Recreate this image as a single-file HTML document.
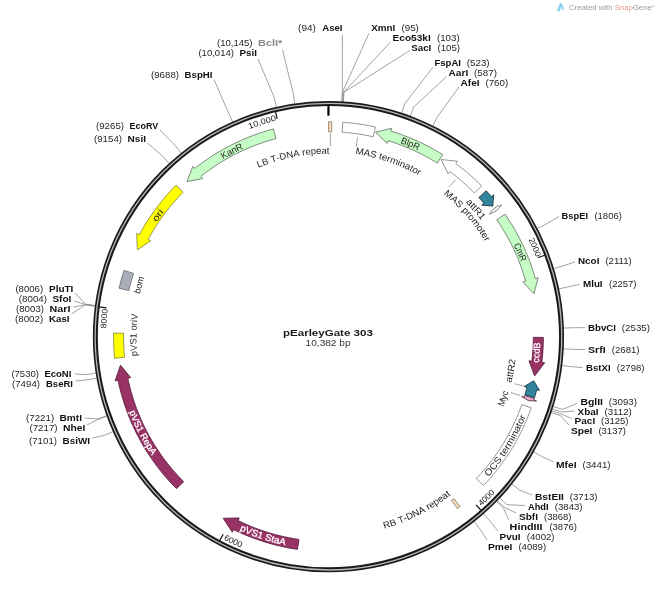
<!DOCTYPE html>
<html><head><meta charset="utf-8"><title>pEarleyGate 303</title>
<style>
html,body{margin:0;padding:0;background:#fff;}
body{width:660px;height:591px;overflow:hidden;}
svg{display:block;font-family:"Liberation Sans",sans-serif;will-change:transform;}
text{white-space:pre;}
</style></head><body>
<svg width="660" height="591" viewBox="0 0 660 591">
<rect width="660" height="591" fill="#fff"/>
<g fill="none" stroke="#8c8c8c" stroke-width="0.8">
<path d="M341.78 102.58 L342.38 92.1 L342.4 34.5"/>
<path d="M341.92 102.59 L342.53 92.1 L369 33.2"/>
<path d="M343.06 102.66 L343.71 92.18 L390.4 42.2"/>
<path d="M343.34 102.67 L344.01 92.19 L410 50.4"/>
<path d="M401.44 113.85 L404.71 103.87 L433 67"/>
<path d="M410.02 116.84 L413.67 107 L446.6 76.6"/>
<path d="M432.55 126.57 L437.21 117.16 L459 87"/>
<path d="M536.69 228.87 L546.01 224.04 L559 216.6"/>
<path d="M552.94 268.92 L562.99 265.89 L575 262"/>
<path d="M558.05 289 L568.33 286.86 L579.6 284.4"/>
<path d="M562.79 328.12 L573.29 327.73 L585 327.6"/>
<path d="M562.64 348.83 L573.12 349.37 L585 349.6"/>
<path d="M561.19 365.37 L571.61 366.65 L582.4 367.6"/>
<path d="M552.4 406.24 L562.43 409.36 L577 403.5"/>
<path d="M551.59 408.81 L561.58 412.04 L574.4 411"/>
<path d="M551.01 410.57 L560.98 413.87 L571.6 418.6"/>
<path d="M550.47 412.18 L560.41 415.56 L569 425"/>
<path d="M532.91 451.52 L542.07 456.67 L553.6 462"/>
<path d="M511.33 483.48 L519.52 490.05 L532 495"/>
<path d="M499.23 497.4 L506.88 504.59 L525 505.6"/>
<path d="M496.78 499.96 L504.32 507.27 L516 513"/>
<path d="M495.99 500.78 L503.49 508.12 L508.6 519.6"/>
<path d="M483 513.06 L489.92 520.96 L498 531"/>
<path d="M473.51 520.95 L480 529.2 L487 540"/>
<path d="M113.84 431.22 L104.23 435.45 L92.4 438"/>
<path d="M107.74 415.93 L97.86 419.48 L87 425"/>
<path d="M107.55 415.4 L97.66 418.92 L85 418"/>
<path d="M97.61 377.99 L87.28 379.84 L75.6 381"/>
<path d="M96.77 372.96 L86.4 374.58 L75 374"/>
<path d="M95.94 306.2 L85.53 304.84 L71.6 314"/>
<path d="M95.96 306.06 L85.55 304.69 L73 307"/>
<path d="M95.98 305.92 L85.57 304.54 L74.4 301"/>
<path d="M96.02 305.64 L85.61 304.25 L75 293"/>
<path d="M169.78 164.03 L162.67 156.3 L147.6 143"/>
<path d="M181.73 153.77 L175.16 145.58 L160 130"/>
<path d="M232.83 122.58 L228.55 112.99 L214 79.6"/>
<path d="M276.65 107.99 L274.34 97.75 L258 59"/>
<path d="M294.93 104.61 L293.43 94.22 L282.4 49.6"/>
</g>
<g>
<text transform="translate(322.2 30.7) scale(1.1579 1)" font-size="8.3" font-weight="bold" fill="#111">AseI</text>
<text transform="translate(298.1 30.7) scale(1.1776 1)" font-size="8.5" fill="#262626">(94)</text>
<text transform="translate(371.2 30.7) scale(1.1877 1)" font-size="8.3" font-weight="bold" fill="#111">XmnI</text>
<text transform="translate(401.4 30.7) scale(1.1577 1)" font-size="8.5" fill="#262626">(95)</text>
<text transform="translate(392.5 40.7) scale(1.2207 1)" font-size="8.3" font-weight="bold" fill="#111">Eco53kI</text>
<text transform="translate(436.9 40.7) scale(1.1540 1)" font-size="8.5" fill="#262626">(103)</text>
<text transform="translate(411.2 50.7) scale(1.1772 1)" font-size="8.3" font-weight="bold" fill="#111">SacI</text>
<text transform="translate(437.4 50.7) scale(1.1440 1)" font-size="8.5" fill="#262626">(105)</text>
<text transform="translate(434.4 65.5) scale(1.1537 1)" font-size="8.3" font-weight="bold" fill="#111">FspAI</text>
<text transform="translate(466.8 65.5) scale(1.1490 1)" font-size="8.5" fill="#262626">(523)</text>
<text transform="translate(448.6 75.6) scale(1.2139 1)" font-size="8.3" font-weight="bold" fill="#111">AarI</text>
<text transform="translate(474 75.6) scale(1.1591 1)" font-size="8.5" fill="#262626">(587)</text>
<text transform="translate(460.6 85.6) scale(1.2117 1)" font-size="8.3" font-weight="bold" fill="#111">AfeI</text>
<text transform="translate(485.4 85.6) scale(1.1490 1)" font-size="8.5" fill="#262626">(760)</text>
<text transform="translate(561.6 218.8) scale(1.1223 1)" font-size="8.3" font-weight="bold" fill="#111">BspEI</text>
<text transform="translate(594.4 218.8) scale(1.1233 1)" font-size="8.5" fill="#262626">(1806)</text>
<text transform="translate(578 263.6) scale(1.1898 1)" font-size="8.3" font-weight="bold" fill="#111">NcoI</text>
<text transform="translate(605.4 263.6) scale(1.1314 1)" font-size="8.5" fill="#262626">(2111)</text>
<text transform="translate(583 286.6) scale(1.1810 1)" font-size="8.3" font-weight="bold" fill="#111">MluI</text>
<text transform="translate(609 286.6) scale(1.1233 1)" font-size="8.5" fill="#262626">(2257)</text>
<text transform="translate(588 330.6) scale(1.1676 1)" font-size="8.3" font-weight="bold" fill="#111">BbvCI</text>
<text transform="translate(621.8 330.6) scale(1.1477 1)" font-size="8.5" fill="#262626">(2535)</text>
<text transform="translate(588 353) scale(1.2720 1)" font-size="8.3" font-weight="bold" fill="#111">SrfI</text>
<text transform="translate(611.8 353) scale(1.1314 1)" font-size="8.5" fill="#262626">(2681)</text>
<text transform="translate(586 370.6) scale(1.1595 1)" font-size="8.3" font-weight="bold" fill="#111">BstXI</text>
<text transform="translate(616.8 370.6) scale(1.1314 1)" font-size="8.5" fill="#262626">(2798)</text>
<text transform="translate(580.4 405) scale(1.2568 1)" font-size="8.3" font-weight="bold" fill="#111">BglII</text>
<text transform="translate(608.8 405) scale(1.1477 1)" font-size="8.5" fill="#262626">(3093)</text>
<text transform="translate(577.6 414.5) scale(1.1981 1)" font-size="8.3" font-weight="bold" fill="#111">XbaI</text>
<text transform="translate(604.4 414.5) scale(1.1477 1)" font-size="8.5" fill="#262626">(3112)</text>
<text transform="translate(574.6 424.4) scale(1.2065 1)" font-size="8.3" font-weight="bold" fill="#111">PacI</text>
<text transform="translate(601 424.4) scale(1.1233 1)" font-size="8.5" fill="#262626">(3125)</text>
<text transform="translate(571 434) scale(1.2209 1)" font-size="8.3" font-weight="bold" fill="#111">SpeI</text>
<text transform="translate(598.4 434) scale(1.1233 1)" font-size="8.5" fill="#262626">(3137)</text>
<text transform="translate(556 468) scale(1.2410 1)" font-size="8.3" font-weight="bold" fill="#111">MfeI</text>
<text transform="translate(582.4 468) scale(1.1477 1)" font-size="8.5" fill="#262626">(3441)</text>
<text transform="translate(535 500) scale(1.2329 1)" font-size="8.3" font-weight="bold" fill="#111">BstEII</text>
<text transform="translate(569.8 500) scale(1.1314 1)" font-size="8.5" fill="#262626">(3713)</text>
<text transform="translate(528 510) scale(1.1171 1)" font-size="8.3" font-weight="bold" fill="#111">AhdI</text>
<text transform="translate(554.8 510) scale(1.1314 1)" font-size="8.5" fill="#262626">(3843)</text>
<text transform="translate(519 520) scale(1.2120 1)" font-size="8.3" font-weight="bold" fill="#111">SbfI</text>
<text transform="translate(544 520) scale(1.1233 1)" font-size="8.5" fill="#262626">(3868)</text>
<text transform="translate(509.6 530) scale(1.3014 1)" font-size="8.3" font-weight="bold" fill="#111">HindIII</text>
<text transform="translate(549.4 530) scale(1.1233 1)" font-size="8.5" fill="#262626">(3876)</text>
<text transform="translate(499.6 540) scale(1.1981 1)" font-size="8.3" font-weight="bold" fill="#111">PvuI</text>
<text transform="translate(526.8 540) scale(1.1314 1)" font-size="8.5" fill="#262626">(4002)</text>
<text transform="translate(488 549.6) scale(1.2300 1)" font-size="8.3" font-weight="bold" fill="#111">PmeI</text>
<text transform="translate(518.4 549.6) scale(1.1314 1)" font-size="8.5" fill="#262626">(4089)</text>
<text transform="translate(62.6 444) scale(1.1884 1)" font-size="8.3" font-weight="bold" fill="#111">BsiWI</text>
<text transform="translate(29 444) scale(1.1396 1)" font-size="8.5" fill="#262626">(7101)</text>
<text transform="translate(63 431.4) scale(1.2454 1)" font-size="8.3" font-weight="bold" fill="#111">NheI</text>
<text transform="translate(29.4 431.4) scale(1.1477 1)" font-size="8.5" fill="#262626">(7217)</text>
<text transform="translate(59.6 421.4) scale(1.2145 1)" font-size="8.3" font-weight="bold" fill="#111">BmtI</text>
<text transform="translate(26 421.4) scale(1.1477 1)" font-size="8.5" fill="#262626">(7221)</text>
<text transform="translate(46 387.2) scale(1.1477 1)" font-size="8.3" font-weight="bold" fill="#111">BseRI</text>
<text transform="translate(12 387.2) scale(1.1396 1)" font-size="8.5" fill="#262626">(7494)</text>
<text transform="translate(44.4 377.4) scale(1.1479 1)" font-size="8.3" font-weight="bold" fill="#111">EcoNI</text>
<text transform="translate(11.4 377.4) scale(1.1233 1)" font-size="8.5" fill="#262626">(7530)</text>
<text transform="translate(49 321.6) scale(1.1750 1)" font-size="8.3" font-weight="bold" fill="#111">KasI</text>
<text transform="translate(15 321.6) scale(1.1477 1)" font-size="8.5" fill="#262626">(8002)</text>
<text transform="translate(49.6 312) scale(1.2882 1)" font-size="8.3" font-weight="bold" fill="#111">NarI</text>
<text transform="translate(16 312) scale(1.1396 1)" font-size="8.5" fill="#262626">(8003)</text>
<text transform="translate(52.4 302.4) scale(1.2120 1)" font-size="8.3" font-weight="bold" fill="#111">SfoI</text>
<text transform="translate(18.8 302.4) scale(1.1477 1)" font-size="8.5" fill="#262626">(8004)</text>
<text transform="translate(49 292.4) scale(1.2027 1)" font-size="8.3" font-weight="bold" fill="#111">PluTI</text>
<text transform="translate(15.4 292.4) scale(1.1314 1)" font-size="8.5" fill="#262626">(8006)</text>
<text transform="translate(127.6 142.4) scale(1.2088 1)" font-size="8.3" font-weight="bold" fill="#111">NsiI</text>
<text transform="translate(94 142.4) scale(1.1396 1)" font-size="8.5" fill="#262626">(9154)</text>
<text transform="translate(129.6 128.6) scale(1.0765 1)" font-size="8.3" font-weight="bold" fill="#111">EcoRV</text>
<text transform="translate(96 128.6) scale(1.1396 1)" font-size="8.5" fill="#262626">(9265)</text>
<text transform="translate(184.6 78.4) scale(1.1593 1)" font-size="8.3" font-weight="bold" fill="#111">BspHI</text>
<text transform="translate(151 78.4) scale(1.1396 1)" font-size="8.5" fill="#262626">(9688)</text>
<text transform="translate(239.6 56) scale(1.1785 1)" font-size="8.3" font-weight="bold" fill="#111">PsiI</text>
<text transform="translate(198.4 56) scale(1.1245 1)" font-size="8.5" fill="#262626">(10,014)</text>
<text transform="translate(258 46) scale(1.3223 1)" font-size="8.3" font-weight="bold" fill="#8a8a8a">BclI*</text>
<text transform="translate(217 46) scale(1.1245 1)" font-size="8.5" fill="#262626">(10,145)</text>
</g>
<circle cx="328.45" cy="336.7" r="233.1" fill="none" stroke="#1a1a1a" stroke-width="5"/>
<circle cx="328.45" cy="336.7" r="233.3" fill="none" stroke="#b8b8b8" stroke-width="1.3"/>
<path d="M328.45 105.7 L328.45 115.7" stroke="#000" stroke-width="2.2" stroke-linecap="butt"/>
<path d="M544.61 255.24 L537.87 257.78" stroke="#111" stroke-width="1.2"/>
<g font-size="8.2" fill="#222">
<text transform="translate(529.42 241.67) rotate(64.69) scale(1.0580 1)" x="-2.28" y="0">2</text>
<text transform="translate(531.43 246.06) rotate(65.94) scale(1.0580 1)" x="-2.28" y="0">0</text>
<text transform="translate(533.35 250.48) rotate(67.18) scale(1.0580 1)" x="-2.28" y="0">0</text>
<text transform="translate(535.17 254.95) rotate(68.42) scale(1.0580 1)" x="-2.28" y="0">0</text>
</g>
<path d="M480.91 510.25 L476.15 504.84" stroke="#111" stroke-width="1.2"/>
<g font-size="8.2" fill="#222">
<text transform="translate(483 504.73) rotate(317.39) scale(1.0580 1)" x="-2.28" y="0">4</text>
<text transform="translate(486.52 501.43) rotate(316.18) scale(1.0580 1)" x="-2.28" y="0">0</text>
<text transform="translate(489.96 498.05) rotate(314.97) scale(1.0580 1)" x="-2.28" y="0">0</text>
<text transform="translate(493.34 494.6) rotate(313.76) scale(1.0580 1)" x="-2.28" y="0">0</text>
</g>
<path d="M219.82 540.56 L223.2 534.21" stroke="#111" stroke-width="1.2"/>
<g font-size="8.2" fill="#222">
<text transform="translate(225.71 540.58) rotate(386.74) scale(1.0580 1)" x="-2.28" y="0">6</text>
<text transform="translate(230.04 542.7) rotate(385.53) scale(1.0580 1)" x="-2.28" y="0">0</text>
<text transform="translate(234.42 544.74) rotate(384.32) scale(1.0580 1)" x="-2.28" y="0">0</text>
<text transform="translate(238.84 546.68) rotate(383.11) scale(1.0580 1)" x="-2.28" y="0">0</text>
</g>
<path d="M99.38 306.94 L106.52 307.86" stroke="#111" stroke-width="1.2"/>
<g font-size="8.2" fill="#222">
<text transform="translate(106.41 326.05) rotate(272.75) scale(1.0580 1)" x="-2.28" y="0">8</text>
<text transform="translate(106.69 321.24) rotate(273.99) scale(1.0580 1)" x="-2.28" y="0">0</text>
<text transform="translate(107.08 316.43) rotate(275.23) scale(1.0580 1)" x="-2.28" y="0">0</text>
<text transform="translate(107.57 311.63) rotate(276.48) scale(1.0580 1)" x="-2.28" y="0">0</text>
</g>
<path d="M275.52 111.85 L277.17 118.85" stroke="#111" stroke-width="1.2"/>
<g font-size="8.2" fill="#222">
<text transform="translate(251.75 128.05) rotate(339.82) scale(1.1284 1)" x="-2.28" y="0">1</text>
<text transform="translate(256.6 126.33) rotate(341.14) scale(1.1284 1)" x="-2.28" y="0">0</text>
<text transform="translate(260.27 125.12) rotate(342.14) scale(1.1284 1)" x="-1.14" y="0">,</text>
<text transform="translate(263.95 123.96) rotate(343.13) scale(1.1284 1)" x="-2.28" y="0">0</text>
<text transform="translate(268.89 122.53) rotate(344.46) scale(1.1284 1)" x="-2.28" y="0">0</text>
<text transform="translate(273.86 121.21) rotate(345.79) scale(1.1284 1)" x="-2.28" y="0">0</text>
</g>
<path d="M328.58 121.8 L331.83 121.83 L331.67 131.83 L328.57 131.8 Z" fill="#fad9b3" stroke="#8f8578" stroke-width="0.9" stroke-linejoin="miter"/>
<path d="M342.75 122.28 L346.41 122.55 L350.06 122.89 L353.71 123.29 L357.35 123.75 L360.98 124.28 L364.61 124.86 L368.22 125.51 L371.82 126.22 L375.41 126.99 L373.22 136.75 L369.8 136.02 L366.37 135.34 L362.92 134.72 L359.47 134.16 L356.01 133.66 L352.53 133.22 L349.06 132.84 L345.57 132.52 L342.08 132.25 Z" fill="#ffffff" stroke="#8a8a8a" stroke-width="0.9" stroke-linejoin="miter"/>
<path d="M442.57 154.6 L439.53 152.74 L436.47 150.92 L433.37 149.15 L430.25 147.44 L427.09 145.78 L423.91 144.17 L420.71 142.61 L417.48 141.11 L414.22 139.66 L410.94 138.26 L407.64 136.92 L404.32 135.64 L400.97 134.41 L397.61 133.23 L394.22 132.11 L390.82 131.05 L391.66 128.28 L375.56 132.15 L387.08 143.4 L387.92 140.62 L391.16 141.63 L394.39 142.7 L397.6 143.82 L400.79 144.99 L403.95 146.22 L407.1 147.5 L410.23 148.83 L413.33 150.21 L416.41 151.64 L419.47 153.13 L422.5 154.66 L425.51 156.25 L428.49 157.88 L431.44 159.56 L434.36 161.3 L437.26 163.08 Z" fill="#c6fcc5" stroke="#6f7f6f" stroke-width="0.9" stroke-linejoin="miter"/>
<path d="M481.62 185.97 L479.2 183.54 L476.74 181.16 L474.24 178.82 L471.7 176.51 L469.13 174.25 L466.52 172.03 L463.88 169.85 L461.2 167.71 L458.49 165.61 L455.75 163.56 L457.47 161.22 L440.99 159.52 L448.11 173.95 L449.83 171.62 L452.44 173.57 L455.03 175.57 L457.58 177.61 L460.1 179.69 L462.59 181.81 L465.04 183.97 L467.46 186.16 L469.84 188.4 L472.18 190.67 L474.49 192.98 Z" fill="#ffffff" stroke="#8a8a8a" stroke-width="0.9" stroke-linejoin="miter"/>
<path d="M486.2 190.76 L487.98 192.72 L489.74 194.69 L491.48 196.69 L493.68 194.8 L492.78 206.11 L481.69 205.09 L483.89 203.2 L482.24 201.3 L480.56 199.42 L478.86 197.56 Z" fill="#31849b" stroke="#163945" stroke-width="0.9" stroke-linejoin="miter"/>
<path d="M505 214.17 L507.01 217.12 L508.97 220.11 L510.89 223.12 L512.75 226.17 L514.56 229.25 L516.32 232.36 L518.03 235.5 L519.69 238.67 L521.29 241.86 L522.84 245.08 L524.34 248.32 L525.78 251.59 L527.17 254.88 L528.5 258.2 L529.78 261.53 L531 264.89 L532.16 268.27 L533.27 271.67 L534.33 275.08 L535.32 278.51 L538.11 277.73 L533.91 293.75 L522.9 282 L525.7 281.22 L524.75 277.95 L523.74 274.69 L522.68 271.45 L521.57 268.23 L520.41 265.03 L519.19 261.85 L517.92 258.69 L516.6 255.55 L515.22 252.43 L513.79 249.34 L512.32 246.27 L510.79 243.23 L509.21 240.21 L507.58 237.22 L505.9 234.25 L504.17 231.32 L502.4 228.41 L500.57 225.53 L498.7 222.69 L496.78 219.87 Z" fill="#c6fcc5" stroke="#6f7f6f" stroke-width="0.9" stroke-linejoin="miter"/>
<path d="M543.35 337.42 L543.31 340.99 L543.21 344.56 L543.05 348.14 L542.83 351.7 L542.55 355.27 L542.21 358.83 L541.81 362.38 L544.69 362.73 L534.65 375.91 L529 360.84 L531.88 361.19 L532.26 357.8 L532.58 354.4 L532.85 351.01 L533.06 347.6 L533.21 344.2 L533.31 340.79 L533.35 337.38 Z" fill="#993366" stroke="#5e1f3f" stroke-width="0.9" stroke-linejoin="miter"/>
<path d="M534.51 397.69 L535.27 395.07 L536 392.43 L536.69 389.79 L539.5 390.51 L533.67 380.77 L524.19 386.6 L527 387.32 L526.34 389.84 L525.65 392.35 L524.92 394.85 Z" fill="#31849b" stroke="#163945" stroke-width="0.9" stroke-linejoin="miter"/>
<path d="M534.33 398.32 L533.76 400.17 L536.53 401.02 L528.37 400.64 L521.44 396.36 L524.21 397.21 L524.75 395.45 Z" fill="#e9a7cf" stroke="#5a3a50" stroke-width="0.9" stroke-linejoin="miter"/>
<path d="M531.23 407.84 L529.99 411.29 L528.68 414.73 L527.32 418.14 L525.9 421.53 L524.42 424.89 L522.89 428.22 L521.29 431.53 L519.64 434.81 L517.94 438.07 L516.18 441.29 L514.37 444.48 L512.5 447.65 L510.57 450.78 L508.6 453.87 L506.57 456.93 L504.49 459.96 L502.36 462.95 L500.17 465.9 L497.94 468.82 L495.66 471.7 L493.32 474.53 L490.95 477.33 L488.52 480.09 L486.04 482.8 L483.52 485.48 L476.31 478.55 L478.71 476 L481.07 473.42 L483.38 470.79 L485.65 468.12 L487.88 465.41 L490.05 462.67 L492.18 459.89 L494.26 457.07 L496.3 454.22 L498.28 451.34 L500.21 448.42 L502.1 445.47 L503.93 442.48 L505.71 439.47 L507.44 436.42 L509.12 433.35 L510.75 430.25 L512.32 427.12 L513.84 423.96 L515.3 420.78 L516.71 417.58 L518.07 414.35 L519.37 411.1 L520.61 407.82 L521.8 404.53 Z" fill="#ffffff" stroke="#8a8a8a" stroke-width="0.9" stroke-linejoin="miter"/>
<path d="M460.15 506.51 L457.46 508.56 L451.46 500.57 L454.02 498.61 Z" fill="#fad9b3" stroke="#8f8578" stroke-width="0.9" stroke-linejoin="miter"/>
<path d="M297.47 549.36 L293.79 548.79 L290.11 548.15 L286.44 547.45 L282.79 546.69 L279.15 545.87 L275.53 544.98 L271.92 544.03 L268.33 543.02 L264.76 541.94 L261.2 540.81 L257.67 539.61 L254.16 538.35 L250.67 537.03 L247.2 535.65 L243.76 534.21 L240.34 532.71 L236.95 531.15 L233.59 529.53 L232.31 532.13 L223.19 518.3 L239.28 517.95 L238 520.56 L241.21 522.1 L244.44 523.59 L247.7 525.02 L250.98 526.39 L254.28 527.71 L257.61 528.97 L260.96 530.17 L264.33 531.31 L267.72 532.39 L271.13 533.42 L274.55 534.38 L277.99 535.29 L281.45 536.14 L284.92 536.92 L288.4 537.65 L291.89 538.31 L295.4 538.92 L298.92 539.46 Z" fill="#993366" stroke="#5e1f3f" stroke-width="0.9" stroke-linejoin="miter"/>
<path d="M176.56 488.73 L173.98 486.1 L171.45 483.44 L168.96 480.73 L166.52 477.98 L164.12 475.19 L161.78 472.36 L159.48 469.48 L157.23 466.57 L155.04 463.62 L152.89 460.64 L150.8 457.62 L148.75 454.56 L146.76 451.47 L144.82 448.34 L142.94 445.18 L141.11 441.99 L139.34 438.77 L137.62 435.52 L135.95 432.24 L134.35 428.93 L132.8 425.6 L131.31 422.23 L129.87 418.85 L128.49 415.44 L127.18 412 L125.92 408.55 L124.72 405.07 L123.58 401.58 L122.5 398.06 L121.48 394.53 L120.52 390.98 L119.62 387.41 L118.78 383.83 L118.01 380.24 L115.17 380.82 L120.48 365.13 L130.64 377.62 L127.8 378.21 L128.54 381.64 L129.34 385.05 L130.19 388.45 L131.11 391.84 L132.08 395.21 L133.11 398.56 L134.2 401.89 L135.34 405.21 L136.54 408.5 L137.8 411.77 L139.11 415.03 L140.48 418.25 L141.9 421.46 L143.38 424.64 L144.91 427.79 L146.5 430.92 L148.14 434.02 L149.83 437.09 L151.57 440.13 L153.37 443.15 L155.22 446.13 L157.11 449.07 L159.06 451.99 L161.06 454.87 L163.11 457.72 L165.2 460.53 L167.34 463.31 L169.53 466.04 L171.77 468.74 L174.05 471.41 L176.38 474.03 L178.75 476.61 L181.17 479.15 L183.63 481.65 Z" fill="#993366" stroke="#5e1f3f" stroke-width="0.9" stroke-linejoin="miter"/>
<path d="M114.64 358.32 L114.31 354.73 L114.04 351.13 L113.82 347.54 L113.67 343.94 L113.58 340.33 L113.55 336.73 L113.58 333.12 L123.58 333.29 L123.55 336.73 L123.58 340.16 L123.67 343.6 L123.81 347.03 L124.01 350.46 L124.27 353.89 L124.59 357.31 Z" fill="#ffff00" stroke="#8f8f40" stroke-width="0.9" stroke-linejoin="miter"/>
<path d="M119.08 288.28 L119.94 284.67 L120.88 281.07 L121.87 277.48 L122.93 273.91 L124.04 270.37 L133.56 273.45 L132.49 276.84 L131.48 280.24 L130.54 283.65 L129.65 287.09 L128.82 290.54 Z" fill="#a9aeb8" stroke="#70747c" stroke-width="0.9" stroke-linejoin="miter"/>
<path d="M176.01 185.23 L173.47 187.83 L170.97 190.47 L168.52 193.16 L166.11 195.89 L163.75 198.65 L161.44 201.46 L159.18 204.31 L156.96 207.19 L154.79 210.11 L152.67 213.07 L150.61 216.06 L148.59 219.09 L146.63 222.15 L144.71 225.24 L142.85 228.37 L141.05 231.53 L139.29 234.71 L136.74 233.34 L137.34 249.89 L150.65 240.83 L148.09 239.46 L149.77 236.42 L151.49 233.41 L153.26 230.43 L155.09 227.48 L156.96 224.56 L158.88 221.67 L160.85 218.82 L162.87 216 L164.94 213.22 L167.05 210.47 L169.21 207.75 L171.42 205.08 L173.67 202.44 L175.96 199.84 L178.3 197.28 L180.68 194.76 L183.1 192.27 Z" fill="#ffff00" stroke="#8f8f40" stroke-width="0.9" stroke-linejoin="miter"/>
<path d="M273.41 128.97 L269.84 129.95 L266.3 130.98 L262.78 132.08 L259.27 133.24 L255.78 134.46 L252.32 135.74 L248.88 137.07 L245.46 138.47 L242.06 139.93 L238.7 141.44 L235.35 143.01 L232.04 144.64 L228.75 146.32 L225.5 148.07 L222.27 149.86 L219.08 151.71 L215.92 153.62 L212.79 155.58 L209.69 157.6 L206.63 159.66 L203.61 161.78 L200.62 163.95 L197.67 166.17 L194.76 168.45 L192.96 166.18 L186.99 181.63 L202.79 178.55 L200.98 176.28 L203.76 174.11 L206.57 171.99 L209.42 169.92 L212.3 167.9 L215.22 165.93 L218.17 164.01 L221.15 162.14 L224.17 160.32 L227.21 158.56 L230.29 156.84 L233.39 155.18 L236.53 153.58 L239.69 152.02 L242.87 150.53 L246.08 149.08 L249.32 147.7 L252.58 146.36 L255.86 145.09 L259.16 143.87 L262.49 142.71 L265.83 141.6 L269.19 140.56 L272.57 139.57 L275.97 138.64 Z" fill="#c6fcc5" stroke="#6f7f6f" stroke-width="0.9" stroke-linejoin="miter"/>
<path d="M498.46 205.25 L499.41 206.49 L501.72 204.74 L496.43 210.84 L489.15 214.31 L491.46 212.55 L490.55 211.37 Z" fill="#ffffff" stroke="#777" stroke-width="0.9" stroke-linejoin="miter"/>
<g font-size="9.3" fill="#1c1c1c">
<text transform="translate(402.92 143.99) rotate(21.13) scale(0.9674 1)" x="-3.1" y="0">B</text>
<text transform="translate(406.64 145.47) rotate(22.24) scale(0.9674 1)" x="-1.03" y="0">l</text>
<text transform="translate(409.87 146.82) rotate(23.21) scale(0.9674 1)" x="-2.59" y="0">p</text>
<text transform="translate(415.12 149.16) rotate(24.8) scale(0.9674 1)" x="-3.36" y="0">R</text>
</g>
<g font-size="9.3" fill="#1c1c1c">
<text transform="translate(514.84 247.59) rotate(64.45) scale(0.8735 1)" x="-3.36" y="0">C</text>
<text transform="translate(517.48 253.33) rotate(66.2) scale(0.8735 1)" x="-3.87" y="0">m</text>
<text transform="translate(519.94 259.15) rotate(67.95) scale(0.8735 1)" x="-3.36" y="0">R</text>
</g>
<g font-size="9.3" fill="#fff" stroke="#fff" stroke-width="0.25">
<text transform="translate(538.89 360.63) rotate(276.49) scale(0.9867 1)" x="-2.33" y="0">c</text>
<text transform="translate(539.36 356.07) rotate(275.25) scale(0.9867 1)" x="-2.33" y="0">c</text>
<text transform="translate(539.75 351.24) rotate(273.94) scale(0.9867 1)" x="-2.59" y="0">d</text>
<text transform="translate(540.06 345.64) rotate(272.42) scale(0.9867 1)" x="-3.1" y="0">B</text>
</g>
<g font-size="9.3" fill="#1c1c1c">
<text transform="translate(491.2 473.96) rotate(310.14) scale(1.1068 1)" x="-3.62" y="0">O</text>
<text transform="translate(496.07 467.97) rotate(308.07) scale(1.1068 1)" x="-3.36" y="0">C</text>
<text transform="translate(500.38 462.27) rotate(306.14) scale(1.1068 1)" x="-3.1" y="0">S</text>
<text transform="translate(504.82 455.95) rotate(304.06) scale(1.1068 1)" x="-1.29" y="0">t</text>
<text transform="translate(507.19 452.37) rotate(302.91) scale(1.1068 1)" x="-2.59" y="0">e</text>
<text transform="translate(509.63 448.5) rotate(301.68) scale(1.1068 1)" x="-1.55" y="0">r</text>
<text transform="translate(512.71 443.35) rotate(300.06) scale(1.1068 1)" x="-3.87" y="0">m</text>
<text transform="translate(515.37 438.62) rotate(298.6) scale(1.1068 1)" x="-1.03" y="0">i</text>
<text transform="translate(517.26 435.08) rotate(297.52) scale(1.1068 1)" x="-2.59" y="0">n</text>
<text transform="translate(519.83 429.97) rotate(295.98) scale(1.1068 1)" x="-2.59" y="0">a</text>
<text transform="translate(521.67 426.09) rotate(294.83) scale(1.1068 1)" x="-1.29" y="0">t</text>
<text transform="translate(523.44 422.18) rotate(293.67) scale(1.1068 1)" x="-2.59" y="0">o</text>
<text transform="translate(525.23 417.97) rotate(292.44) scale(1.1068 1)" x="-1.55" y="0">r</text>
</g>
<g font-size="9.3" fill="#fff" stroke="#fff" stroke-width="0.3">
<text transform="translate(242.11 531.31) rotate(383.92) scale(1.0550 1)" x="-2.59" y="0">p</text>
<text transform="translate(247.63 533.66) rotate(382.31) scale(1.0550 1)" x="-3.1" y="0">V</text>
<text transform="translate(253.72 536.05) rotate(380.55) scale(1.0550 1)" x="-3.1" y="0">S</text>
<text transform="translate(259.37 538.08) rotate(378.93) scale(1.0550 1)" x="-2.59" y="0">1</text>
<text transform="translate(267.68 540.74) rotate(376.59) scale(1.0550 1)" x="-3.1" y="0">S</text>
<text transform="translate(272.14 542.02) rotate(375.34) scale(1.0550 1)" x="-1.29" y="0">t</text>
<text transform="translate(276.09 543.06) rotate(374.24) scale(1.0550 1)" x="-2.59" y="0">a</text>
<text transform="translate(281.93 544.46) rotate(372.62) scale(1.0550 1)" x="-3.1" y="0">A</text>
</g>
<g font-size="9.3" fill="#fff" stroke="#fff" stroke-width="0.3">
<text transform="translate(130.16 414.2) rotate(428.65) scale(1.0186 1)" x="-2.59" y="0">p</text>
<text transform="translate(132.34 419.57) rotate(427.09) scale(1.0186 1)" x="-3.1" y="0">V</text>
<text transform="translate(134.89 425.35) rotate(425.39) scale(1.0186 1)" x="-3.1" y="0">S</text>
<text transform="translate(137.37 430.59) rotate(423.83) scale(1.0186 1)" x="-2.59" y="0">1</text>
<text transform="translate(141.36 438.3) rotate(421.5) scale(1.0186 1)" x="-3.36" y="0">R</text>
<text transform="translate(144.32 443.58) rotate(419.87) scale(1.0186 1)" x="-2.59" y="0">e</text>
<text transform="translate(147.02 448.1) rotate(418.45) scale(1.0186 1)" x="-2.59" y="0">p</text>
<text transform="translate(150.12 453) rotate(416.89) scale(1.0186 1)" x="-3.1" y="0">A</text>
</g>
<g font-size="9.3" fill="#1c1c1c">
<text transform="translate(158.42 219.7) rotate(304.53) scale(1.2094 1)" x="-2.59" y="0">o</text>
<text transform="translate(161.3 215.61) rotate(305.92) scale(1.2094 1)" x="-1.55" y="0">r</text>
<text transform="translate(163.15 213.1) rotate(306.79) scale(1.2094 1)" x="-1.03" y="0">i</text>
</g>
<g font-size="9.3" fill="#1c1c1c">
<text transform="translate(225.75 157.67) rotate(330.16) scale(0.9887 1)" x="-3.1" y="0">K</text>
<text transform="translate(230.66 154.94) rotate(331.72) scale(0.9887 1)" x="-2.59" y="0">a</text>
<text transform="translate(235.19 152.57) rotate(333.14) scale(0.9887 1)" x="-2.59" y="0">n</text>
<text transform="translate(240.47 149.99) rotate(334.77) scale(0.9887 1)" x="-3.36" y="0">R</text>
</g>
<g font-size="9.3" fill="#1c1c1c">
<text transform="translate(260.71 166.7) rotate(-21.73) scale(1.0235 1)" x="-2.59" y="0">L</text>
<text transform="translate(266.15 164.63) rotate(-19.9) scale(1.0235 1)" x="-3.1" y="0">B</text>
<text transform="translate(274.42 161.86) rotate(-17.17) scale(1.0235 1)" x="-2.84" y="0">T</text>
<text transform="translate(278.73 160.58) rotate(-15.77) scale(1.0235 1)" x="-1.55" y="0">-</text>
<text transform="translate(283.58 159.29) rotate(-14.19) scale(1.0235 1)" x="-3.36" y="0">D</text>
<text transform="translate(290.27 157.73) rotate(-12.04) scale(1.0235 1)" x="-3.36" y="0">N</text>
<text transform="translate(296.76 156.46) rotate(-9.97) scale(1.0235 1)" x="-3.1" y="0">A</text>
<text transform="translate(304.08 155.33) rotate(-7.65) scale(1.0235 1)" x="-1.55" y="0">r</text>
<text transform="translate(308.28 154.82) rotate(-6.33) scale(1.0235 1)" x="-2.59" y="0">e</text>
<text transform="translate(313.55 154.31) rotate(-4.67) scale(1.0235 1)" x="-2.59" y="0">p</text>
<text transform="translate(318.83 153.95) rotate(-3.01) scale(1.0235 1)" x="-2.59" y="0">e</text>
<text transform="translate(324.12 153.75) rotate(-1.36) scale(1.0235 1)" x="-2.59" y="0">a</text>
<text transform="translate(328.09 153.7) rotate(-0.11) scale(1.0235 1)" x="-1.29" y="0">t</text>
</g>
<g font-size="9.3" fill="#1c1c1c">
<text transform="translate(359.15 154.47) rotate(9.56) scale(1.0526 1)" x="-3.87" y="0">M</text>
<text transform="translate(366.37 155.83) rotate(11.84) scale(1.0526 1)" x="-3.1" y="0">A</text>
<text transform="translate(372.73 157.28) rotate(13.86) scale(1.0526 1)" x="-3.1" y="0">S</text>
<text transform="translate(379.83 159.19) rotate(16.14) scale(1.0526 1)" x="-1.29" y="0">t</text>
<text transform="translate(383.74 160.36) rotate(17.41) scale(1.0526 1)" x="-2.59" y="0">e</text>
<text transform="translate(387.87 161.71) rotate(18.76) scale(1.0526 1)" x="-1.55" y="0">r</text>
<text transform="translate(393.25 163.63) rotate(20.53) scale(1.0526 1)" x="-3.87" y="0">m</text>
<text transform="translate(398.06 165.51) rotate(22.13) scale(1.0526 1)" x="-1.03" y="0">i</text>
<text transform="translate(401.57 166.98) rotate(23.31) scale(1.0526 1)" x="-2.59" y="0">n</text>
<text transform="translate(406.54 169.21) rotate(25) scale(1.0526 1)" x="-2.59" y="0">a</text>
<text transform="translate(410.22 170.98) rotate(26.26) scale(1.0526 1)" x="-1.29" y="0">t</text>
<text transform="translate(413.86 172.82) rotate(27.53) scale(1.0526 1)" x="-2.59" y="0">o</text>
<text transform="translate(417.7 174.88) rotate(28.88) scale(1.0526 1)" x="-1.55" y="0">r</text>
</g>
<g font-size="9.3" fill="#1c1c1c">
<text transform="translate(446.74 196.68) rotate(40.19) scale(1.0675 1)" x="-3.87" y="0">M</text>
<text transform="translate(452.33 201.6) rotate(42.52) scale(1.0675 1)" x="-3.1" y="0">A</text>
<text transform="translate(457.13 206.16) rotate(44.59) scale(1.0675 1)" x="-3.1" y="0">S</text>
<text transform="translate(463.27 212.51) rotate(47.35) scale(1.0675 1)" x="-2.59" y="0">p</text>
<text transform="translate(466.22 215.79) rotate(48.73) scale(1.0675 1)" x="-1.55" y="0">r</text>
<text transform="translate(469.09 219.15) rotate(50.11) scale(1.0675 1)" x="-2.59" y="0">o</text>
<text transform="translate(473.41 224.52) rotate(52.27) scale(1.0675 1)" x="-3.87" y="0">m</text>
<text transform="translate(477.53 230.05) rotate(54.42) scale(1.0675 1)" x="-2.59" y="0">o</text>
<text transform="translate(479.9 233.44) rotate(55.71) scale(1.0675 1)" x="-1.29" y="0">t</text>
<text transform="translate(482.19 236.89) rotate(57.01) scale(1.0675 1)" x="-2.59" y="0">e</text>
<text transform="translate(484.55 240.62) rotate(58.39) scale(1.0675 1)" x="-1.55" y="0">r</text>
</g>
<g font-size="9.3" fill="#1c1c1c">
<text transform="translate(467.55 204.36) rotate(46.43) scale(1.0707 1)" x="-2.59" y="0">a</text>
<text transform="translate(470.38 207.4) rotate(47.67) scale(1.0707 1)" x="-1.29" y="0">t</text>
<text transform="translate(472.23 209.45) rotate(48.49) scale(1.0707 1)" x="-1.29" y="0">t</text>
<text transform="translate(475.48 213.23) rotate(49.98) scale(1.0707 1)" x="-3.36" y="0">R</text>
<text transform="translate(479.49 218.17) rotate(51.88) scale(1.0707 1)" x="-2.59" y="0">1</text>
</g>
<g font-size="9.3" fill="#1c1c1c">
<text transform="translate(511.86 380.23) rotate(283.35) scale(1.0797 1)" x="-2.59" y="0">a</text>
<text transform="translate(512.78 376.14) rotate(282.08) scale(1.0797 1)" x="-1.29" y="0">t</text>
<text transform="translate(513.34 373.41) rotate(281.23) scale(1.0797 1)" x="-1.29" y="0">t</text>
<text transform="translate(514.25 368.48) rotate(279.7) scale(1.0797 1)" x="-3.36" y="0">R</text>
<text transform="translate(515.23 362.13) rotate(277.75) scale(1.0797 1)" x="-2.59" y="0">2</text>
</g>
<g font-size="9.3" fill="#1c1c1c">
<text transform="translate(504.67 403.62) rotate(290.79) scale(0.9386 1)" x="-3.87" y="0">M</text>
<text transform="translate(506.65 398.15) rotate(289.03) scale(0.9386 1)" x="-2.33" y="0">y</text>
<text transform="translate(508.03 394.01) rotate(287.7) scale(0.9386 1)" x="-2.33" y="0">c</text>
</g>
<g font-size="9.3" fill="#1c1c1c">
<text transform="translate(387.61 527.75) rotate(342.8) scale(1.0292 1)" x="-3.36" y="0">R</text>
<text transform="translate(393.92 525.68) rotate(340.89) scale(1.0292 1)" x="-3.1" y="0">B</text>
<text transform="translate(402.15 522.63) rotate(338.38) scale(1.0292 1)" x="-2.84" y="0">T</text>
<text transform="translate(406.33 520.91) rotate(337.08) scale(1.0292 1)" x="-1.55" y="0">-</text>
<text transform="translate(410.95 518.89) rotate(335.64) scale(1.0292 1)" x="-3.36" y="0">D</text>
<text transform="translate(417.2 515.93) rotate(333.66) scale(1.0292 1)" x="-3.36" y="0">N</text>
<text transform="translate(423.11 512.88) rotate(331.75) scale(1.0292 1)" x="-3.1" y="0">A</text>
<text transform="translate(429.6 509.24) rotate(329.62) scale(1.0292 1)" x="-1.55" y="0">r</text>
<text transform="translate(433.25 507.04) rotate(328.4) scale(1.0292 1)" x="-2.59" y="0">e</text>
<text transform="translate(437.75 504.2) rotate(326.87) scale(1.0292 1)" x="-2.59" y="0">p</text>
<text transform="translate(442.16 501.23) rotate(325.35) scale(1.0292 1)" x="-2.59" y="0">e</text>
<text transform="translate(446.5 498.14) rotate(323.82) scale(1.0292 1)" x="-2.59" y="0">a</text>
<text transform="translate(449.7 495.75) rotate(322.68) scale(1.0292 1)" x="-1.29" y="0">t</text>
</g>
<g font-size="9.3" fill="#1c1c1c">
<text transform="translate(137.18 353.41) rotate(265.01) scale(1.0030 1)" x="-2.59" y="0">p</text>
<text transform="translate(136.77 347.72) rotate(266.71) scale(1.0030 1)" x="-3.1" y="0">V</text>
<text transform="translate(136.51 341.5) rotate(268.57) scale(1.0030 1)" x="-3.1" y="0">S</text>
<text transform="translate(136.45 335.8) rotate(270.27) scale(1.0030 1)" x="-2.59" y="0">1</text>
<text transform="translate(136.65 328.02) rotate(272.59) scale(1.0030 1)" x="-2.59" y="0">o</text>
<text transform="translate(136.88 323.88) rotate(273.83) scale(1.0030 1)" x="-1.55" y="0">r</text>
<text transform="translate(137.07 321.3) rotate(274.6) scale(1.0030 1)" x="-1.03" y="0">i</text>
<text transform="translate(137.45 317.17) rotate(275.84) scale(1.0030 1)" x="-3.1" y="0">V</text>
</g>
<g font-size="9.3" fill="#1c1c1c">
<text transform="translate(140.49 291.57) rotate(283.5) scale(0.9397 1)" x="-2.59" y="0">b</text>
<text transform="translate(141.69 286.86) rotate(284.94) scale(0.9397 1)" x="-2.59" y="0">o</text>
<text transform="translate(143.34 281.02) rotate(286.74) scale(0.9397 1)" x="-3.87" y="0">m</text>
</g>
<path d="M330.4 132.8 L330.4 146" stroke="#8c8c8c" stroke-width="0.8" fill="none"/>
<path d="M357.6 137.2 L356 147" stroke="#8c8c8c" stroke-width="0.8" fill="none"/>
<path d="M455.6 179.6 L449 187" stroke="#8c8c8c" stroke-width="0.8" fill="none"/>
<path d="M514.5 383.7 L523.8 386.1" stroke="#8c8c8c" stroke-width="0.8" fill="none"/>
<path d="M510.7 392.6 L520 395.4" stroke="#8c8c8c" stroke-width="0.8" fill="none"/>
<text transform="translate(283 336) scale(1.2046 1)" font-size="9.6" font-weight="bold" fill="#1a1a1a">pEarleyGate 303</text>
<text transform="translate(305.6 346.4) scale(1.2042 1)" font-size="8.4" fill="#333">10,382 bp</text>
<path d="M557.2 10.9 L560 3.6 L561.7 3.6 L563.8 9 L562.6 9.4 L561.2 6 L559.6 10.9 Z" fill="#86cdf0" stroke="#86cdf0" stroke-width="0.5" stroke-linejoin="round"/>
<text transform="translate(569 9.8) scale(1.0214 1)" font-size="7.6" fill="#9a9a9a">Created with <tspan fill="#e79a90">Snap</tspan>Gene<tspan font-size="4.18" dy="-2">®</tspan></text>
</svg>
</body></html>
